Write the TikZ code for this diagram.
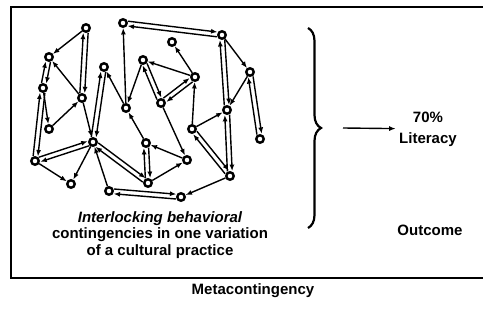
\documentclass[tikz,border=0pt]{standalone}
\usepackage{fontspec}
\setmainfont{Liberation Sans}
\usetikzlibrary{arrows.meta}
\usetikzlibrary{calc}
\usetikzlibrary{decorations.pathreplacing}
\tikzset{dot/.style={ % Sets the properties for each member
circle, draw,
line width=2.4pt,
fill=white,
inner sep=0pt, minimum size=7.5pt},
txt/.style={ % Bold captions
font=\bfseries\fontsize{15}{16.7}\selectfont,
align=center},
every edge/.style={ % Sets the properties for each contingency
draw,
-{Latex[length=6.5pt,width=5pt]}, % Filled arrow heads
line width=1.4pt}}
% Two contingencies running both ways between a pair of members
\newcommand{\twoway}[2]{\draw ($(#1)!2.4pt!90:(#2)$) edge[shorten <=4.8pt, shorten >=4.8pt] ($(#2)!2.4pt!-90:(#1)$)
($(#2)!2.4pt!90:(#1)$) edge[shorten <=4.8pt, shorten >=4.8pt] ($(#1)!2.4pt!-90:(#2)$);}

\begin{document}
\begin{tikzpicture}[x=1pt, y=-1pt]
\useasboundingbox (0,0) rectangle (483,320);
\draw[line width=1.3pt] (485,7) -- (11,7) -- (11,278) -- (485,278);
\node[dot] (1) at (86,28) {};
\node[dot] (2) at (49,57) {};
\node[dot] (3) at (43,88) {};
\node[dot] (4) at (82,98) {};
\node[dot] (5) at (104,67) {};
\node[dot] (6) at (123,23) {};
\node[dot] (7) at (143,60) {};
\node[dot] (8) at (126,108) {};
\node[dot] (9) at (172,42) {};
\node[dot] (10) at (222,35) {};
\node[dot] (11) at (195,77) {};
\node[dot] (12) at (161,103) {};
\node[dot] (13) at (250,72) {};
\node[dot] (14) at (227,110) {};
\node[dot] (15) at (49,129) {};
\node[dot] (16) at (93,142) {};
\node[dot] (17) at (35,161) {};
\node[dot] (18) at (71,184) {};
\node[dot] (19) at (109,191) {};
\node[dot] (20) at (146,143) {};
\node[dot] (21) at (148,183) {};
\node[dot] (22) at (192,129) {};
\node[dot] (23) at (260,139) {};
\node[dot] (24) at (187,160) {};
\node[dot] (25) at (230,176) {};
\node[dot] (26) at (181,197) {};
\draw (1) edge (2)
(4) edge (2) edge (16)
(15) edge (4)
(3) edge (15)
(17) edge (18)
(16) edge (18)
(8) edge (5) edge (6)
(7) edge (8)
(11) edge (7) edge (9)
(22) edge (11) edge (14)
(12) edge (24)
(24) edge (20)
(21) edge (24)
(20) edge (8)
(25) edge (26)
(19) edge (16)
(10) edge (13)
(13) edge (14);
\twoway{1}{4}
\twoway{2}{3}
\twoway{3}{17}
\twoway{17}{16}
\twoway{5}{16}
\twoway{7}{12}
\twoway{11}{12}
\twoway{20}{21}
\twoway{14}{25}
\twoway{25}{22}
\twoway{19}{26}
\twoway{16}{21}
\twoway{6}{10}
\twoway{10}{14}
\twoway{13}{23}
\draw[decorate, decoration={brace, amplitude=13pt}, line width=2.2pt] (308,28) -- (308,228);
\coordinate (tip) at (343,128);
\node[txt] (lit) at (428,129) {70\%\\[4pt]Literacy};
\draw (tip) edge (lit);
\node[txt] (out) at (430,230) {Outcome};
\node[txt] (icc) at (160,235) {{\itshape Interlocking behavioral}\\contingencies in one variation\\of a cultural practice};
\node[txt] (meta) at (253,291) {Metacontingency};
\end{tikzpicture}
\end{document}
